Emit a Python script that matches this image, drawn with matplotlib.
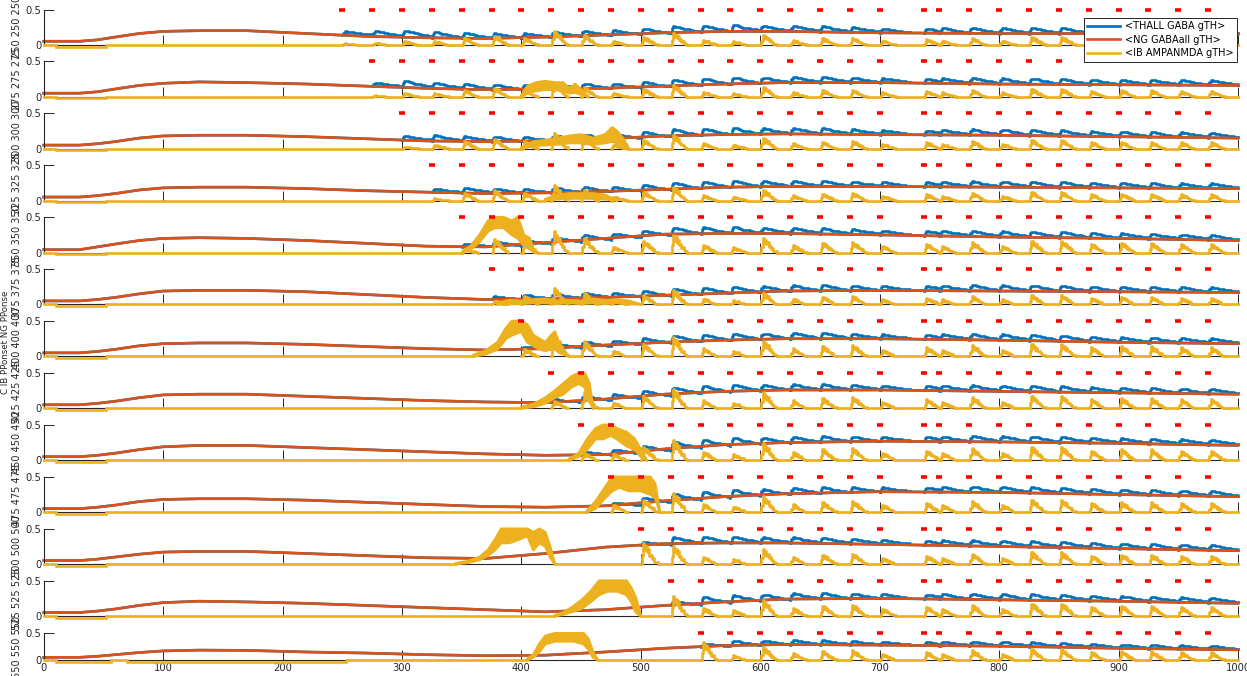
import numpy as np
import matplotlib.pyplot as plt
from matplotlib.lines import Line2D

BLUE = '#0072BD'
ORANGE = '#D95319'
YELLOW = '#EDB120'
LW = 1.9

# pulse train onset of each row (ms)
onsets = [250, 275, 300, 325, 350, 375, 400, 425, 450, 475, 500, 525, 550]

# pulse times (red marks), the 725 one came in late
pulse_times = [250, 275, 300, 325, 350, 375, 400, 425, 450, 475, 500, 525, 550, 575, 600,
               625, 650, 675, 700, 737, 750, 775, 800, 825, 850, 875, 900, 925, 950, 975]

# blue response height above the orange trace, per pulse
blue_amp = [0.09, 0.08, 0.09, 0.08, 0.07, 0.07, 0.06, 0.07, 0.07, 0.06, 0.07, 0.09, 0.09, 0.09, 0.08,
            0.08, 0.08, 0.07, 0.06, 0.06, 0.07, 0.08, 0.08, 0.08, 0.08, 0.07, 0.07, 0.07, 0.07, 0.07]
# yellow spike height per pulse (top row), and row scaling
yellow_amp = [0.02, 0.03, 0.05, 0.05, 0.10, 0.13, 0.10, 0.20, 0.14, 0.05, 0.11, 0.17, 0.07, 0.05, 0.14,
              0.07, 0.09, 0.10, 0.06, 0.08, 0.06, 0.10, 0.06, 0.11, 0.11, 0.08, 0.09, 0.09, 0.08, 0.08]
spike_scale = [1.0, 1.0, 1.1, 1.1, 1.5, 1.2, 1.6, 1.6, 1.7, 1.6, 1.5, 1.6, 1.8]
first_spike_amp = [0.02, 0.02, 0.03, 0.03, 0.05, 0.05, 0.1, 0.1, 0.1, 0.1, 0.3, 0.28, 0.33]

# orange (NG GABAall) trace, key points per row
orange_t = [0, 30, 45, 60, 80, 100, 130, 170, 220, 270, 320, 370, 420, 470, 520, 570, 620, 700, 800, 900, 1000]
orange_rows = [
    [0.05, 0.05, 0.07, 0.11, 0.16, 0.19, 0.20, 0.20, 0.16, 0.12, 0.10, 0.09, 0.11, 0.14, 0.17, 0.19, 0.19, 0.17, 0.16, 0.16, 0.15],
    [0.05, 0.05, 0.07, 0.11, 0.16, 0.19, 0.21, 0.20, 0.18, 0.15, 0.12, 0.10, 0.11, 0.12, 0.15, 0.18, 0.20, 0.20, 0.18, 0.17, 0.16],
    [0.05, 0.05, 0.07, 0.10, 0.15, 0.18, 0.19, 0.19, 0.17, 0.14, 0.11, 0.10, 0.11, 0.14, 0.18, 0.20, 0.21, 0.20, 0.19, 0.17, 0.15],
    [0.05, 0.05, 0.07, 0.10, 0.15, 0.18, 0.19, 0.19, 0.17, 0.14, 0.12, 0.10, 0.11, 0.13, 0.16, 0.19, 0.20, 0.20, 0.19, 0.18, 0.17],
    [0.04, 0.04, 0.08, 0.12, 0.17, 0.20, 0.21, 0.20, 0.17, 0.13, 0.09, 0.08, 0.14, 0.20, 0.26, 0.27, 0.27, 0.25, 0.22, 0.20, 0.17],
    [0.05, 0.05, 0.07, 0.10, 0.15, 0.19, 0.20, 0.20, 0.18, 0.14, 0.10, 0.07, 0.08, 0.10, 0.13, 0.16, 0.19, 0.20, 0.19, 0.18, 0.17],
    [0.05, 0.05, 0.07, 0.10, 0.15, 0.18, 0.19, 0.19, 0.17, 0.14, 0.11, 0.09, 0.11, 0.16, 0.20, 0.23, 0.25, 0.25, 0.23, 0.20, 0.18],
    [0.05, 0.05, 0.07, 0.10, 0.15, 0.19, 0.20, 0.20, 0.17, 0.14, 0.11, 0.09, 0.08, 0.13, 0.20, 0.24, 0.26, 0.26, 0.24, 0.22, 0.20],
    [0.05, 0.05, 0.07, 0.10, 0.15, 0.19, 0.21, 0.21, 0.18, 0.15, 0.12, 0.09, 0.07, 0.08, 0.16, 0.22, 0.25, 0.27, 0.26, 0.24, 0.21],
    [0.05, 0.05, 0.07, 0.10, 0.15, 0.18, 0.19, 0.19, 0.17, 0.14, 0.11, 0.08, 0.07, 0.09, 0.16, 0.22, 0.26, 0.29, 0.28, 0.25, 0.22],
    [0.05, 0.05, 0.07, 0.10, 0.14, 0.17, 0.18, 0.18, 0.15, 0.12, 0.09, 0.08, 0.15, 0.24, 0.29, 0.30, 0.30, 0.28, 0.25, 0.22, 0.19],
    [0.05, 0.05, 0.07, 0.10, 0.15, 0.19, 0.21, 0.20, 0.18, 0.15, 0.12, 0.09, 0.06, 0.09, 0.15, 0.20, 0.24, 0.25, 0.23, 0.21, 0.18],
    [0.05, 0.05, 0.07, 0.10, 0.14, 0.17, 0.185, 0.18, 0.15, 0.13, 0.10, 0.08, 0.09, 0.15, 0.22, 0.27, 0.29, 0.28, 0.26, 0.22, 0.19],
]

# shape of one evoked response (ms after pulse, fraction of peak)
blue_shape_t = [0, 1, 2, 4, 6, 8, 10, 13, 16, 19, 22, 25]
blue_shape_v = [0, 0.7, 1.0, 0.95, 0.85, 0.75, 0.6, 0.5, 0.4, 0.3, 0.2, 0.12]
spike_shape_t = [0, 1, 2, 3, 4, 5, 6, 7, 8, 9, 10, 11, 12, 14]
spike_shape_v = [0, 0.4, 1.0, 0.65, 0.85, 0.55, 0.7, 0.4, 0.45, 0.25, 0.3, 0.12, 0.08, 0]

# yellow bursts: time, upper edge, lower edge
burst_t = [
    [],
    [400, 405, 412, 420, 428, 435, 440, 445, 450, 456],
    [400, 410, 420, 430, 440, 450, 460, 470, 476, 480, 485, 490],
    [420, 430, 440, 450, 460, 470, 480],
    [351, 358, 365, 372, 378, 385, 392, 397, 402, 407, 411],
    [380, 390, 400, 410, 420, 430, 440, 450, 460, 470, 480, 490, 500],
    [360, 370, 380, 387, 392, 400, 405, 410, 415, 420, 425, 428, 432, 440],
    [400, 410, 420, 428, 435, 442, 448, 453, 457, 460],
    [440, 448, 455, 462, 468, 475, 480, 488, 495, 500, 505],
    [455, 462, 470, 476, 482, 490, 500, 508, 512, 516],
    [345, 355, 365, 372, 378, 383, 390, 398, 405, 410, 415, 420, 424, 428],
    [428, 435, 442, 450, 458, 465, 472, 480, 488, 492, 496, 500],
    [405, 410, 415, 420, 428, 436, 444, 452, 456, 460, 464],
]
burst_hi = [
    [],
    [0.02, 0.15, 0.2, 0.22, 0.2, 0.2, 0.12, 0.18, 0.1, 0.0],
    [0.02, 0.1, 0.12, 0.15, 0.18, 0.2, 0.15, 0.2, 0.3, 0.25, 0.15, 0.0],
    [0.02, 0.08, 0.1, 0.1, 0.1, 0.08, 0.0],
    [0.02, 0.1, 0.25, 0.45, 0.5, 0.5, 0.45, 0.5, 0.25, 0.2, 0.0],
    [0.02, 0.06, 0.05, 0.07, 0.08, 0.05, 0.06, 0.05, 0.08, 0.06, 0.07, 0.05, 0.0],
    [0.02, 0.08, 0.2, 0.4, 0.5, 0.5, 0.45, 0.3, 0.25, 0.2, 0.3, 0.35, 0.15, 0.0],
    [0.02, 0.06, 0.15, 0.25, 0.35, 0.45, 0.5, 0.5, 0.35, 0.0],
    [0.02, 0.1, 0.3, 0.45, 0.5, 0.5, 0.45, 0.4, 0.3, 0.15, 0.0],
    [0.02, 0.15, 0.35, 0.5, 0.5, 0.5, 0.5, 0.5, 0.4, 0.0],
    [0.01, 0.04, 0.1, 0.2, 0.35, 0.5, 0.5, 0.5, 0.5, 0.45, 0.5, 0.45, 0.25, 0.0],
    [0.01, 0.05, 0.12, 0.22, 0.35, 0.5, 0.5, 0.5, 0.5, 0.4, 0.25, 0.0],
    [0.02, 0.1, 0.3, 0.45, 0.5, 0.5, 0.5, 0.5, 0.4, 0.15, 0.0],
]
burst_lo = [
    [],
    [0, 0.05, 0.08, 0.1, 0.1, 0.08, 0.05, 0.06, 0.03, 0],
    [0, 0.04, 0.05, 0.06, 0.08, 0.08, 0.06, 0.08, 0.1, 0.08, 0.04, 0],
    [0, 0.02, 0.03, 0.03, 0.03, 0.02, 0],
    [0, 0.05, 0.15, 0.3, 0.35, 0.35, 0.25, 0.2, 0.1, 0.05, 0],
    [0, 0.01, 0.01, 0.02, 0.02, 0.01, 0.02, 0.01, 0.02, 0.01, 0.02, 0.01, 0],
    [0, 0.03, 0.1, 0.25, 0.3, 0.35, 0.2, 0.15, 0.1, 0.08, 0.1, 0.1, 0.05, 0],
    [0, 0.02, 0.07, 0.15, 0.2, 0.3, 0.35, 0.3, 0.1, 0],
    [0, 0.05, 0.15, 0.3, 0.3, 0.35, 0.3, 0.2, 0.15, 0.05, 0],
    [0, 0.05, 0.2, 0.3, 0.35, 0.3, 0.3, 0.25, 0.2, 0],
    [0, 0.02, 0.06, 0.12, 0.2, 0.3, 0.3, 0.35, 0.4, 0.2, 0.3, 0.25, 0.1, 0],
    [0, 0.02, 0.06, 0.1, 0.2, 0.3, 0.35, 0.35, 0.3, 0.2, 0.05, 0],
    [0, 0.05, 0.15, 0.3, 0.35, 0.35, 0.35, 0.3, 0.2, 0.05, 0],
]

# stretches where the yellow sits a hair below zero (black axis shows)
yellow_dips = [[(10, 52)]] * 12 + [[(10, 56), (70, 253)]]

legend_labels = ['<THALL GABA gTH>', '<NG GABAall gTH>', '<IB AMPANMDA gTH>']
x_ticks = list(range(0, 1001, 100))

W, H = 1247, 676
fig = plt.figure(figsize=(W / 100, H / 100), dpi=100)

for i in range(13):
    if i < 12:
        top = 9.5 + 51.93 * i
        bot = top + 35.3
    else:
        top, bot = 633.3, 660.0
    ax = fig.add_axes([43.7 / W, 1 - bot / H, 1194.3 / W, (bot - top) / H])
    ax.set_xlim(0, 1000)
    ax.set_ylim(0, 0.5)
    orange = orange_rows[i]
    dip = -0.025 if i < 12 else -0.033

    # blue sits under orange, responses poke out after each pulse
    ax.plot(orange_t, orange, color=BLUE, lw=LW, zorder=2, clip_on=False)
    for j, p in enumerate(pulse_times):
        if p < onsets[i]:
            continue
        nxt = pulse_times[j + 1] if j + 1 < len(pulse_times) else 1000
        base = np.interp(p, orange_t, orange)
        amp = blue_amp[j] * (0.6 if p == onsets[i] else 1.0)
        xs = [p + s for s in blue_shape_t if p + s <= nxt]
        ys = [base + amp * v for v in blue_shape_v[:len(xs)]]
        ax.plot(xs, ys, color=BLUE, lw=LW, drawstyle='steps-post', zorder=2, clip_on=False)

    ax.plot(orange_t, orange, color=ORANGE, lw=LW, zorder=2.2, clip_on=False)

    # yellow: spikes, bursts, and the flat part in between
    gaps = []
    for j, p in enumerate(pulse_times):
        if p < onsets[i]:
            continue
        a = first_spike_amp[i] if p == onsets[i] else yellow_amp[j] * spike_scale[i]
        xs = [p + s for s in spike_shape_t]
        ys = [min(a * v, 0.5) for v in spike_shape_v]
        ax.plot(xs, ys, color=YELLOW, lw=LW, drawstyle='steps-post', zorder=3, clip_on=False)
        gaps.append((p, p + spike_shape_t[-1]))
    if burst_t[i]:
        ax.fill_between(burst_t[i], burst_lo[i], burst_hi[i], color=YELLOW, lw=0, zorder=3)
        ax.plot(burst_t[i], burst_hi[i], color=YELLOW, lw=LW, zorder=3, clip_on=False)
        ax.plot(burst_t[i], burst_lo[i], color=YELLOW, lw=LW, zorder=3, clip_on=False)
        gaps.append((burst_t[i][0], burst_t[i][-1]))
    for d0, d1 in yellow_dips[i]:
        ax.plot([d0, d1], [dip, dip], color=YELLOW, lw=LW, zorder=3, clip_on=False)
        gaps.append((d0, d1))
    gaps.sort()
    cur = 0
    for g0, g1 in gaps:
        if g0 > cur:
            ax.plot([cur, g0], [0, 0], color=YELLOW, lw=LW, zorder=3, clip_on=False)
        cur = max(cur, g1)
    if cur < 1000:
        ax.plot([cur, 1000], [0, 0], color=YELLOW, lw=LW, zorder=3, clip_on=False)

    # red pulse marks along the top
    shown = [p for p in pulse_times if p >= onsets[i]]
    ax.hlines([0.5] * len(shown), [p - 2.5 for p in shown], [p + 2.5 for p in shown],
              color='red', lw=2.6, zorder=4, clip_on=False)

    # matlab-ish axes: left and bottom only, ticks pointing in
    for s in ['top', 'right']:
        ax.spines[s].set_visible(False)
    for s in ['left', 'bottom']:
        ax.spines[s].set_color('#262626')
        ax.spines[s].set_linewidth(0.8)
    ax.set_yticks([0, 0.5])
    ax.set_yticklabels(['0', '0.5'])
    ax.set_xticks(x_ticks)
    ax.tick_params(direction='in', length=7.5, width=0.7, labelsize=7.2,
                   labelcolor='#262626', color='#262626', pad=1.5)
    if i < 12:
        ax.set_xticklabels([])
    else:
        ax.tick_params(axis='x', pad=2.5)

    v = onsets[i]
    fig.text(17 / W, 1 - (top + bot) / 2 / H, f'{v} {v} {v}', rotation=90,
             fontsize=7, ha='center', va='center', color='#262626')

fig.text(6 / W, 1 - 342 / H, 'C IB PPonset NG PPonse', rotation=90,
         fontsize=6.2, ha='center', va='center', color='#262626')

handles = [Line2D([], [], color=c, lw=LW) for c in [BLUE, ORANGE, YELLOW]]
leg = fig.legend(handles, legend_labels, loc='upper right',
                 bbox_to_anchor=(1237 / W, 1 - 18 / H), bbox_transform=fig.transFigure,
                 fontsize=7, frameon=True, fancybox=False, framealpha=1,
                 edgecolor='#262626', handlelength=3.4, labelspacing=0.35,
                 borderpad=0.35, handletextpad=0.5, borderaxespad=0)
leg.get_frame().set_linewidth(0.7)

fig.savefig('out.png', dpi=100)
